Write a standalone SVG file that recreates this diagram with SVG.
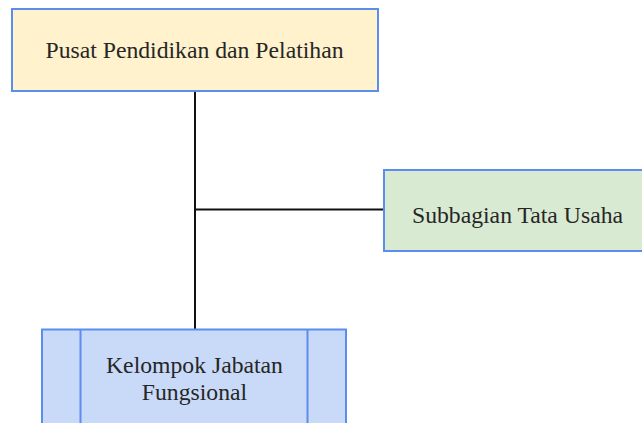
<svg xmlns="http://www.w3.org/2000/svg" width="642" height="423" viewBox="0 0 642 423">
<style>
.box{stroke:#5b8def;stroke-width:2}
.t{font-family:"Liberation Serif","Times New Roman",serif;font-size:23.7px;fill:#262626;text-anchor:middle}
.c{stroke:#111;stroke-width:2;fill:none}
</style>
<rect width="642" height="423" fill="#ffffff"/>
<g id="connectors">
<line class="c" x1="195" y1="90" x2="195" y2="329"/>
<line class="c" x1="195" y1="209.5" x2="384" y2="209.5"/>
</g>
<g id="pusat">
<rect class="box" x="12" y="9" width="366" height="82" fill="#fff2cc"/>
<text class="t" x="194.5" y="57.5">Pusat Pendidikan dan Pelatihan</text>
</g>
<g id="subbagian">
<rect class="box" x="384" y="170" width="268" height="81" fill="#d9ead3"/>
<text class="t" x="517.5" y="223">Subbagian Tata Usaha</text>
</g>
<g id="kelompok">
<rect class="box" x="42" y="329.5" width="304" height="110" fill="#c9daf8"/>
<line class="box" x1="80.5" y1="329.5" x2="80.5" y2="439.5"/>
<line class="box" x1="307.5" y1="329.5" x2="307.5" y2="439.5"/>
<text class="t" x="194.5" y="372.5">Kelompok Jabatan</text>
<text class="t" x="194.5" y="400">Fungsional</text>
</g>
</svg>
